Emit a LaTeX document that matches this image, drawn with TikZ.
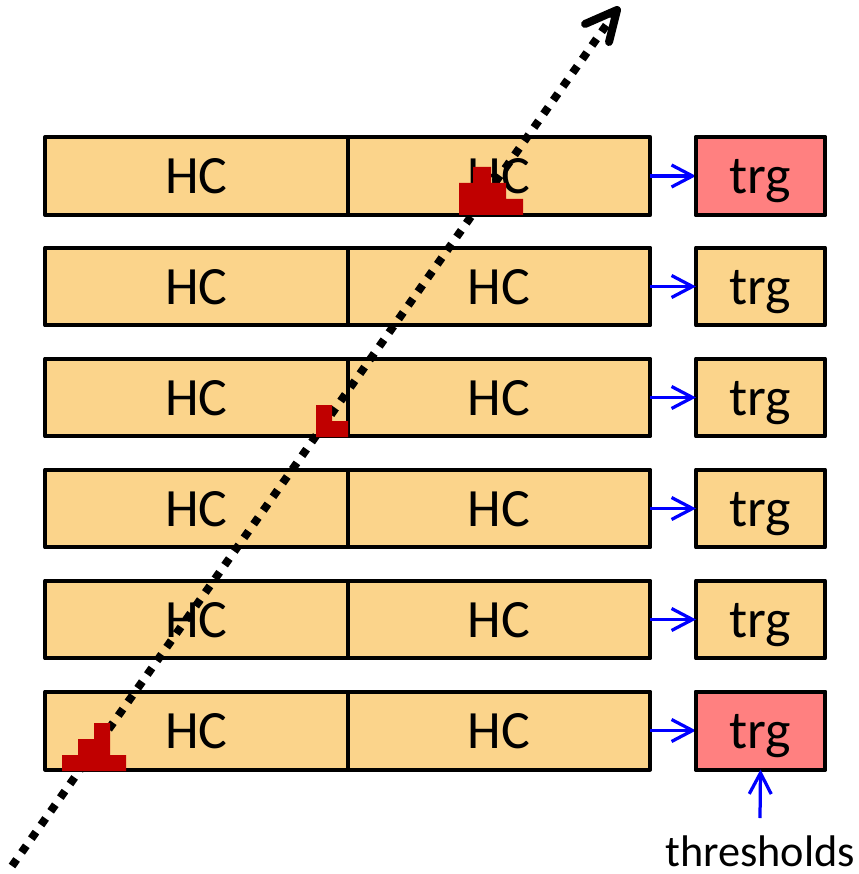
\documentclass[tikz,border=0pt]{standalone}
\usepackage{fontspec}
\setmainfont{Carlito}
\usetikzlibrary{arrows.meta,calc}
\definecolor{hcfill}{RGB}{251,212,139}
\definecolor{trgfill}{RGB}{255,128,128}
\definecolor{pulse}{RGB}{192,0,0}
\definecolor{link}{RGB}{0,0,255}
\tikzset{
  cell/.style={draw=black, line width=0.08cm, line join=round, inner sep=0pt, outer sep=0pt,
    minimum height=1.56cm, text height=0.9cm, text depth=0.18cm,
    font=\fontsize{30.7}{36}\selectfont},
  hcbox/.style={cell, fill=hcfill, minimum width=6.05cm},
  trgbox/.style={cell, fill=hcfill, minimum width=2.58cm},
  fired/.style={fill=trgfill},
  link/.style={draw=link, line width=0.065cm, -{Straight Barb[length=0.42cm, width=0.44cm, line width=0.065cm]}},
  track/.style={draw=black, line width=0.16cm, dash pattern=on 0.16cm off 0.175cm},
  trackhead/.style={draw=black, line width=0.16cm, line cap=round, line join=round},
  signal/.style={fill=pulse, draw=none}
}
\begin{document}
\begin{tikzpicture}[x=0.02cm, y=-0.02cm]
  \useasboundingbox (0,0) rectangle (858,874);

  % six rows of two HC cells feeding a trigger cell
  \foreach \i/\yc in {1/176, 2/286.5, 3/397.5, 4/508.5, 5/619.5, 6/730.5} {
    \node[hcbox] (hca\i) at (196.5,\yc) {HC};
    \node[hcbox] (hcb\i) at (499,\yc) {HC};
    \node[trgbox] (trg\i) at (760.5,\yc) {trg};
    \draw[link] (hcb\i.east) -- (trg\i.west);
  }
  % triggers that fired
  \node[trgbox, fired] at (trg1) {trg};
  \node[trgbox, fired] at (trg6) {trg};

  % threshold input
  \node[anchor=base, font=\fontsize{25.2}{28}\selectfont, inner sep=0pt] (thr) at (760,866) {thresholds};
  \coordinate (thrtop) at (760,818);
  \draw[link] (thrtop) -- (trg6.south);

  % particle track
  \coordinate (trackstart) at (12,866);
  \coordinate (tracktip) at (617,10);
  \draw[track] (trackstart) -- (tracktip);
  \draw[trackhead] ($(tracktip)+(-32,14)$) -- (tracktip) -- ($(tracktip)+(-8,32)$);

  % deposited signals
  \fill[signal] (459,215) -- (459,183) -- (473,183) -- (473,167) -- (491,167) -- (491,183)
    -- (506,183) -- (506,199) -- (523,199) -- (523,215) -- cycle;
  \fill[signal] (316,437) -- (316,405) -- (332,405) -- (332,421) -- (348,421) -- (348,437) -- cycle;
  \fill[signal] (62,771) -- (62,755) -- (78,755) -- (78,739) -- (94,739) -- (94,723) -- (110,723)
    -- (110,755) -- (126,755) -- (126,771) -- cycle;
\end{tikzpicture}
\end{document}
